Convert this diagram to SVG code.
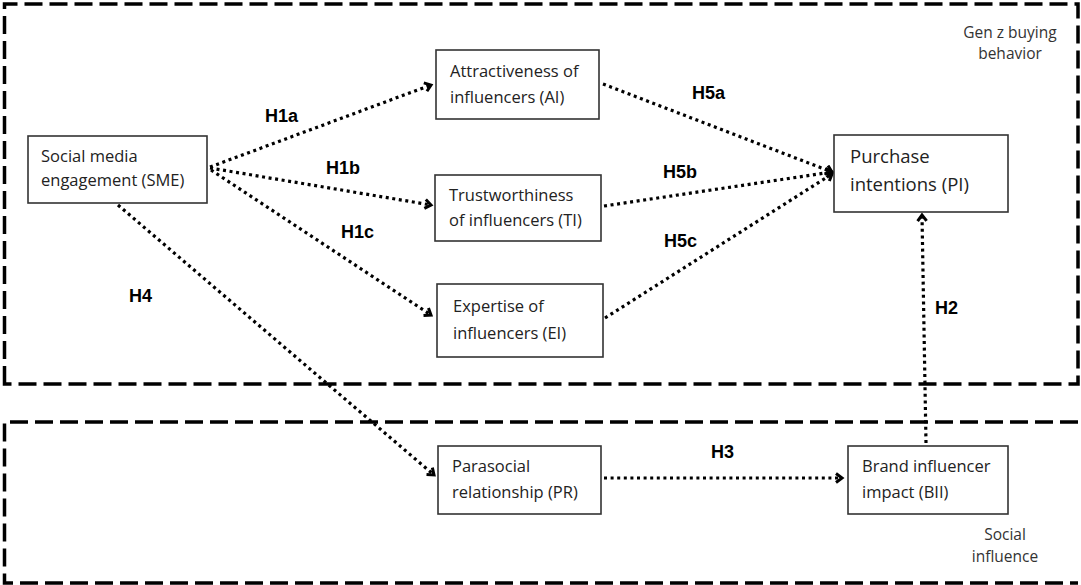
<svg xmlns="http://www.w3.org/2000/svg" width="1081" height="585" viewBox="0 0 1081 585">
<style>
.grp{fill:none;stroke:#000;stroke-width:3.5;stroke-dasharray:18 7}
.box{fill:#fff;stroke:#333;stroke-width:1.6}
.t{font-family:"Open Sans","Liberation Sans",sans-serif;font-size:16.5px;fill:#222}
.tl{font-family:"Open Sans","Liberation Sans",sans-serif;font-size:18.5px;fill:#222}
.g{font-family:"Open Sans","Liberation Sans",sans-serif;font-size:15.5px;fill:#333;text-anchor:middle}
.h{font-family:"Liberation Sans",Arial,sans-serif;font-size:18px;font-weight:bold;fill:#000}
.c{fill:none;stroke:#000;stroke-width:3.2;stroke-dasharray:3 3.6}
</style>
<defs>
<marker id="arr" markerWidth="12" markerHeight="12" refX="9" refY="6" orient="auto" markerUnits="userSpaceOnUse">
<path d="M3,1.5 L9,6 L3,10.5" fill="none" stroke="#000" stroke-width="3"/>
</marker>
</defs>
<rect width="1081" height="585" fill="#fff"/>
<g id="groups">
<path class="grp" d="M4.5,384 L4.5,4 L1078,4 L1078,384 Z"/>
<path class="grp" d="M1078,422 L4.5,422 L4.5,583 L1078,583"/>
<text class="g" x="1010" y="38">Gen z buying</text>
<text class="g" x="1010" y="59">behavior</text>
<text class="g" x="1005" y="540">Social</text>
<text class="g" x="1005" y="562">influence</text>
</g>
<g id="connectors">
<path class="c" d="M210,167 L431,85" marker-end="url(#arr)"/>
<path class="c" d="M210,168 L431,205" marker-end="url(#arr)"/>
<path class="c" d="M211,170 L431,315" marker-end="url(#arr)"/>
<path class="c" d="M118,205 L434,475" marker-end="url(#arr)"/>
<path class="c" d="M603,84 L832,172" marker-end="url(#arr)"/>
<path class="c" d="M604,206 L832,172" marker-end="url(#arr)"/>
<path class="c" d="M605,318 L832,174" marker-end="url(#arr)"/>
<path class="c" d="M926,443 L922,215" marker-end="url(#arr)"/>
<path class="c" d="M604,478 L842,478" marker-end="url(#arr)"/>
<text class="h" x="265" y="122">H1a</text>
<text class="h" x="326" y="174">H1b</text>
<text class="h" x="341" y="238">H1c</text>
<text class="h" x="129" y="302">H4</text>
<text class="h" x="692" y="99">H5a</text>
<text class="h" x="663" y="178">H5b</text>
<text class="h" x="664" y="247">H5c</text>
<text class="h" x="935" y="314">H2</text>
<text class="h" x="711" y="458">H3</text>
</g>
<g id="SME">
<rect class="box" x="28" y="136" width="179" height="67"/>
<text class="t" x="41" y="162">Social media</text>
<text class="t" x="41" y="186">engagement (SME)</text>
</g>
<g id="AI">
<rect class="box" x="436" y="50" width="163" height="69"/>
<text class="t" x="450" y="77">Attractiveness of</text>
<text class="t" x="450" y="103">influencers (AI)</text>
</g>
<g id="TI">
<rect class="box" x="435" y="175" width="166" height="66"/>
<text class="t" x="449" y="201">Trustworthiness</text>
<text class="t" x="449" y="226">of influencers (TI)</text>
</g>
<g id="EI">
<rect class="box" x="437" y="284" width="166" height="73"/>
<text class="t" x="453" y="312">Expertise of</text>
<text class="t" x="453" y="339">influencers (EI)</text>
</g>
<g id="PI">
<rect class="box" x="834" y="135" width="174" height="77"/>
<text class="tl" x="850" y="163">Purchase</text>
<text class="tl" x="850" y="191">intentions (PI)</text>
</g>
<g id="PR">
<rect class="box" x="438" y="446" width="163" height="68"/>
<text class="t" x="452" y="472">Parasocial</text>
<text class="t" x="452" y="498">relationship (PR)</text>
</g>
<g id="BII">
<rect class="box" x="848" y="446" width="160" height="68"/>
<text class="t" x="862" y="472">Brand influencer</text>
<text class="t" x="862" y="498">impact (BII)</text>
</g>
</svg>
